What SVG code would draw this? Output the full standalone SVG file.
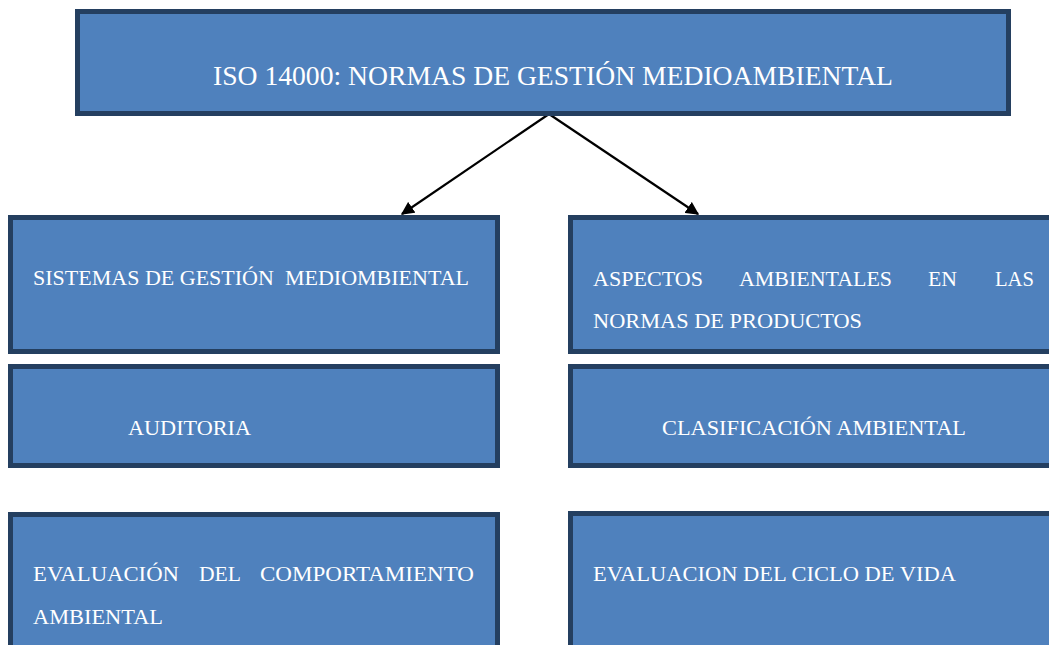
<svg xmlns="http://www.w3.org/2000/svg" width="1049" height="645" viewBox="0 0 1049 645">
<style>
.box{fill:#4F81BD;stroke:#243F60;stroke-width:5}
.t{font-family:"Liberation Serif","Times New Roman",serif;font-size:21px;fill:#ffffff;white-space:pre}
.title{font-size:28px}
.conn{stroke:#000000;stroke-width:2.2;fill:none;marker-end:url(#ah)}
</style>
<defs>
<marker id="ah" viewBox="0 0 10 10" refX="9" refY="5" markerWidth="6" markerHeight="6" markerUnits="strokeWidth" orient="auto">
<path d="M0,0 L10,5 L0,10 z" fill="#000000"/>
</marker>
</defs>
<rect width="1049" height="645" fill="#ffffff"/>
<g id="connectors">
<line class="conn" x1="549" y1="114" x2="402" y2="214"/>
<line class="conn" x1="549" y1="114" x2="698" y2="214"/>
</g>
<g id="n-root">
<rect class="box" x="77.5" y="11.5" width="931" height="102"/>
<text class="t title" x="213" y="85" textLength="680" lengthAdjust="spacingAndGlyphs">ISO 14000: NORMAS DE GESTIÓN MEDIOAMBIENTAL</text>
</g>
<g id="n-sistemas">
<rect class="box" x="10.5" y="217.5" width="487" height="134"/>
<text class="t" x="33" y="285" textLength="436" lengthAdjust="spacingAndGlyphs">SISTEMAS DE GESTIÓN  MEDIOMBIENTAL</text>
</g>
<g id="n-auditoria">
<rect class="box" x="10.5" y="366.5" width="487" height="99"/>
<text class="t" x="128" y="435" textLength="123" lengthAdjust="spacingAndGlyphs">AUDITORIA</text>
</g>
<g id="n-evaluacion">
<rect class="box" x="10.5" y="514.5" width="487" height="140"/>
<text class="t" y="581"><tspan x="33" textLength="146" lengthAdjust="spacingAndGlyphs">EVALUACIÓN</tspan><tspan x="199" textLength="42" lengthAdjust="spacingAndGlyphs">DEL</tspan><tspan x="260" textLength="214" lengthAdjust="spacingAndGlyphs">COMPORTAMIENTO</tspan></text>
<text class="t" x="33" y="624" textLength="130" lengthAdjust="spacingAndGlyphs">AMBIENTAL</text>
</g>
<g id="n-aspectos">
<rect class="box" x="570.5" y="217.5" width="490" height="134"/>
<text class="t" y="285.5"><tspan x="593" textLength="110" lengthAdjust="spacingAndGlyphs">ASPECTOS</tspan><tspan x="739" textLength="153" lengthAdjust="spacingAndGlyphs">AMBIENTALES</tspan><tspan x="928" textLength="29" lengthAdjust="spacingAndGlyphs">EN</tspan><tspan x="995" textLength="39" lengthAdjust="spacingAndGlyphs">LAS</tspan></text>
<text class="t" x="593" y="328" textLength="269" lengthAdjust="spacingAndGlyphs">NORMAS DE PRODUCTOS</text>
</g>
<g id="n-clasificacion">
<rect class="box" x="570.5" y="366.5" width="490" height="99"/>
<text class="t" x="662" y="435" textLength="304" lengthAdjust="spacingAndGlyphs">CLASIFICACIÓN AMBIENTAL</text>
</g>
<g id="n-ciclo">
<rect class="box" x="570.5" y="513.5" width="490" height="140"/>
<text class="t" x="593" y="581" textLength="363" lengthAdjust="spacingAndGlyphs">EVALUACION DEL CICLO DE VIDA</text>
</g>
</svg>
